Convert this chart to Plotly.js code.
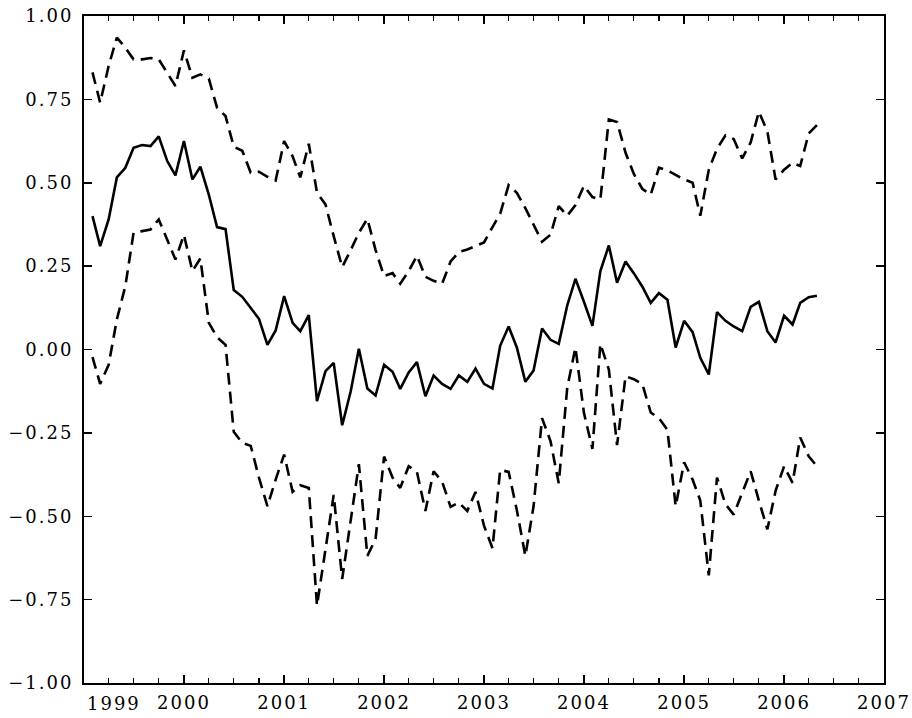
<!DOCTYPE html>
<html>
<head>
<meta charset="utf-8">
<script src="https://cdn.plot.ly/plotly-3.0.1.min.js"></script>
<style>
  body { margin: 0; background: #fff; }
  #chart-container { width: 912px; height: 718px; }
  .xtick text, .ytick text, .annotation-text { letter-spacing: 2px; }
</style>
</head>
<body>
<div id="chart-container"></div>
<script>
// monthly observations, Feb 1999 .. May 2006
const firstMonth = [1999, 2]
const monthCount = 88

const centre = [
    0.40, 0.31, 0.39, 0.516, 0.545, 0.605, 0.613, 0.61, 0.639, 0.565, 0.522, 0.625,
    0.51, 0.548, 0.464, 0.367, 0.361, 0.178, 0.158, 0.126, 0.092, 0.014, 0.057, 0.16,
    0.08, 0.055, 0.103, -0.155, -0.065, -0.04, -0.227, -0.126, 0.002, -0.117, -0.138, -0.046,
    -0.067, -0.118, -0.069, -0.038, -0.14, -0.078, -0.103, -0.118, -0.078, -0.097, -0.057, -0.103,
    -0.117, 0.011, 0.069, 0.006, -0.097, -0.063, 0.063, 0.029, 0.017, 0.132, 0.212, 0.143,
    0.071, 0.235, 0.312, 0.20, 0.264, 0.229, 0.189, 0.14, 0.169, 0.149, 0.006, 0.086,
    0.052, -0.025, -0.075, 0.112, 0.086, 0.069, 0.055, 0.128, 0.143, 0.055, 0.021, 0.101,
    0.075, 0.14, 0.157, 0.161
]

const upper = [
    0.831, 0.74, 0.85, 0.935, 0.905, 0.87, 0.87, 0.874, 0.87, 0.83, 0.79, 0.897,
    0.815, 0.825, 0.812, 0.725, 0.70, 0.608, 0.596, 0.53, 0.533, 0.518, 0.507, 0.625,
    0.579, 0.516, 0.617, 0.47, 0.435, 0.34, 0.247, 0.298, 0.35, 0.392, 0.298, 0.22,
    0.229, 0.197, 0.235, 0.281, 0.218, 0.206, 0.197, 0.264, 0.292, 0.30, 0.31, 0.321,
    0.367, 0.407, 0.493, 0.47, 0.424, 0.373, 0.323, 0.344, 0.43, 0.401, 0.433, 0.491,
    0.457, 0.45, 0.69, 0.682, 0.59, 0.527, 0.482, 0.464, 0.545, 0.537, 0.524, 0.51,
    0.50, 0.401, 0.539, 0.602, 0.642, 0.631, 0.573, 0.621, 0.713, 0.654, 0.51, 0.539,
    0.56, 0.55, 0.648, 0.673
]

const lower = [
    -0.023, -0.103, -0.046, 0.09, 0.19, 0.35, 0.355, 0.36, 0.39, 0.33, 0.27, 0.344,
    0.235, 0.273, 0.08, 0.037, 0.014, -0.247, -0.28, -0.289, -0.384, -0.47, -0.39, -0.315,
    -0.427, -0.407, -0.415, -0.768, -0.60, -0.436, -0.688, -0.516, -0.344, -0.619, -0.568, -0.321,
    -0.384, -0.415, -0.35, -0.367, -0.484, -0.365, -0.396, -0.472, -0.459, -0.484, -0.427, -0.528,
    -0.596, -0.361, -0.367, -0.482, -0.619, -0.47, -0.206, -0.275, -0.401, -0.115, 0.006, -0.19,
    -0.298, 0.017, -0.06, -0.287, -0.08, -0.089, -0.103, -0.189, -0.206, -0.241, -0.47, -0.338,
    -0.39, -0.453, -0.677, -0.384, -0.464, -0.495, -0.43, -0.365, -0.453, -0.539, -0.424, -0.35,
    -0.40, -0.264, -0.32, -0.35
]

const yearTicks = ['2000-01-01', '2001-01-01', '2002-01-01', '2003-01-01',
                   '2004-01-01', '2005-01-01', '2006-01-01', '2007-01-01']
const yearLabels = ['2000', '2001', '2002', '2003', '2004', '2005', '2006', '2007']
const firstYearLabel = '1999'
const yTicks = [-1, -0.75, -0.5, -0.25, 0, 0.25, 0.5, 0.75, 1]

function monthList(start, n) {
    let out = []
    for (let i = 0; i < n; i++) {
        const y = start[0] + Math.floor((start[1] - 1 + i) / 12)
        const m = (start[1] - 1 + i) % 12 + 1
        out.push(y + '-' + String(m).padStart(2, '0') + '-01')
    }
    return out
}

const months = monthList(firstMonth, monthCount)
const font = {family: 'DejaVu Serif', size: 18, color: '#000'}

let data = [
    {x: months, y: upper, type: 'scatter', mode: 'lines',
     line: {color: '#000', width: 2.6, dash: '12px,7px'}},
    {x: months, y: centre, type: 'scatter', mode: 'lines',
     line: {color: '#000', width: 2.6}},
    {x: months, y: lower, type: 'scatter', mode: 'lines',
     line: {color: '#000', width: 2.6, dash: '12px,7px'}}
]

let layout = {
    width: 912,
    height: 718,
    margin: {l: 84, r: 28, t: 16, b: 35},
    showlegend: false,
    paper_bgcolor: '#fff',
    plot_bgcolor: '#fff',
    font: font,
    xaxis: {
        type: 'date',
        range: ['1999-01-01', '2007-01-01'],
        tickmode: 'array',
        tickvals: yearTicks,
        ticktext: yearLabels,
        ticks: 'inside',
        ticklen: 8,
        tickwidth: 1.5,
        tickcolor: '#000',
        ticklabelstandoff: 2,
        minor: {tick0: '1999-01-01', dtick: 'M3', ticks: 'inside', ticklen: 5,
                tickwidth: 1.2, tickcolor: '#000'},
        showline: true,
        linewidth: 2,
        linecolor: '#000',
        mirror: 'ticks',
        showgrid: false,
        zeroline: false,
        tickfont: font
    },
    yaxis: {
        range: [-1, 1],
        tickmode: 'array',
        tickvals: yTicks,
        tickformat: '.2f',
        ticks: 'inside',
        ticklen: 8,
        tickwidth: 1.5,
        tickcolor: '#000',
        ticklabelstandoff: 5,
        showline: true,
        linewidth: 2,
        linecolor: '#000',
        mirror: 'ticks',
        showgrid: false,
        zeroline: false,
        tickfont: font
    },
    annotations: [{
        xref: 'x', yref: 'paper',
        x: '1999-01-01', y: 0,
        xanchor: 'center', yanchor: 'top',
        xshift: 30, yshift: -8,
        text: firstYearLabel,
        showarrow: false,
        font: font
    }]
}

Plotly.newPlot('chart-container', data, layout, {staticPlot: true})
</script>
</body>
</html>
